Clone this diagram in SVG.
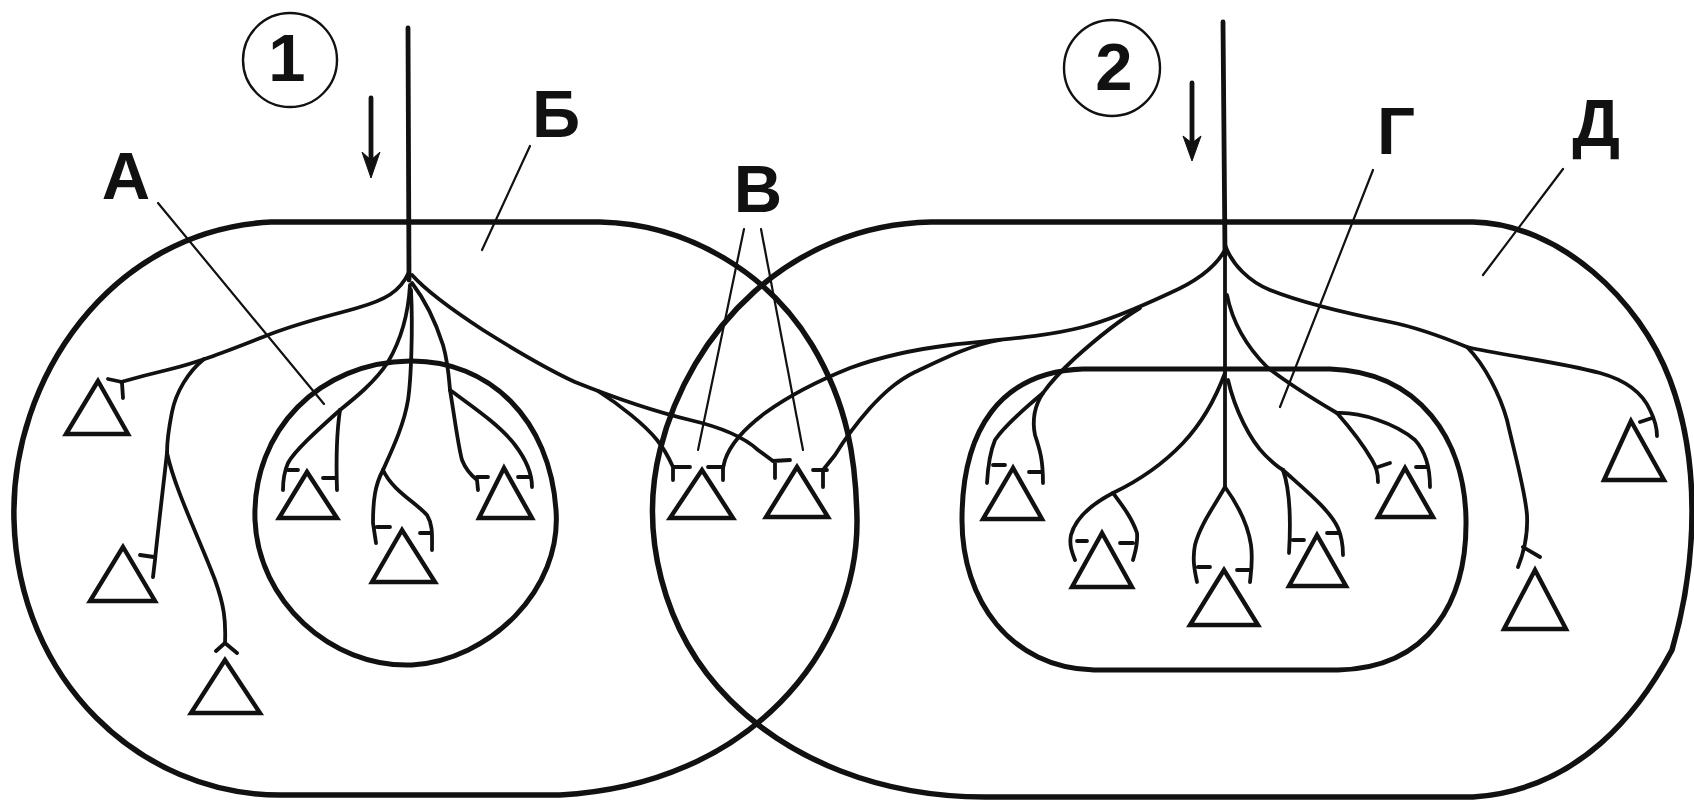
<svg xmlns="http://www.w3.org/2000/svg" width="1694" height="804" viewBox="0 0 1694 804">
<style>
.zone{fill:none;stroke:#111;stroke-width:5.5;stroke-linejoin:round}
.inner{fill:none;stroke:#111;stroke-width:5;stroke-linejoin:round}
.f{fill:none;stroke:#111;stroke-width:3.8;stroke-linecap:round;stroke-linejoin:round}
.trunk{fill:none;stroke:#111;stroke-width:4.8;stroke-linecap:round}
.tri{fill:none;stroke:#111;stroke-width:4.4;stroke-linejoin:miter}
.lead{fill:none;stroke:#111;stroke-width:2.2;stroke-linecap:round}
.circ{fill:none;stroke:#111;stroke-width:2.4}
.lbl{font-family:"Liberation Sans",Arial,sans-serif;font-weight:bold;font-size:67px;text-anchor:middle;fill:#111}
.arr{fill:#111;stroke:#111;stroke-width:1}
</style>
<rect width="1694" height="804" fill="#fff"/>

<g id="zone-B-outer1">
<path class="zone" d="M 271 222 L 600 222 C 690 224 770 275 812 345 C 848 405 856 460 857 520 C 858 650 750 785 560 795 L 280 795 C 140 795 18 680 14 520 C 10 380 110 230 271 222 Z"/>
</g>
<g id="zone-D-outer2">
<path class="zone" d="M 931 222 L 1473 222 C 1560 224 1640 300 1670 380 C 1700 460 1698 560 1672 650 C 1640 710 1580 790 1473 797 L 985 797 C 880 797 790 760 730 700 C 660 630 640 530 660 450 C 690 330 790 225 931 222 Z"/>
</g>
<g id="zone-A">
<path class="inner" d="M 410 361 C 490 360 550 420 556 510 C 562 590 490 660 412 665 C 330 668 258 600 255 520 C 252 430 320 362 410 361 Z"/>
</g>
<g id="zone-G">
<path class="inner" d="M 1083 369 L 1330 369 C 1420 372 1465 440 1466 520 C 1467 600 1430 668 1338 670 L 1094 670 C 1010 668 962 600 962 520 C 962 430 1000 372 1083 369 Z"/>
</g>

<g id="neurons">
<g id="n1"><polygon class="tri" points="98,381 66,434 128,434"/></g>
<g id="n2"><polygon class="tri" points="123,547 90,601 155,601"/></g>
<g id="n3"><polygon class="tri" points="225,660 191,713 260,713"/></g>
<g id="n4"><polygon class="tri" points="307,472 279,518 337,518"/></g>
<g id="n5"><polygon class="tri" points="402,530 372,582 435,582"/></g>
<g id="n6"><polygon class="tri" points="504,468 479,518 532,518"/></g>
<g id="n7"><polygon class="tri" points="702,470 670,518 733,518"/></g>
<g id="n8"><polygon class="tri" points="797,467 766,517 828,517"/></g>
<g id="n9"><polygon class="tri" points="1013,468 983,519 1042,519"/></g>
<g id="n10"><polygon class="tri" points="1102,533 1072,587 1132,587"/></g>
<g id="n11"><polygon class="tri" points="1224,570 1190,625 1258,625"/></g>
<g id="n12"><polygon class="tri" points="1317,535 1289,586 1346,586"/></g>
<g id="n13"><polygon class="tri" points="1405,468 1378,517 1433,517"/></g>
<g id="n14"><polygon class="tri" points="1535,570 1504,629 1566,629"/></g>
<g id="n15"><polygon class="tri" points="1631,421 1604,480 1664,480"/></g>
</g>

<g id="connectors">
<!-- tree 1 -->
<path class="trunk" d="M 408 28 L 409 280"/>
<path class="f" d="M 409 272 C 400 292 385 300 357 308 C 330 316 300 322 263 337 C 230 350 200 362 167 370 C 150 374 135 378 121 382"/>
<path class="f" d="M 108 379 L 122 382 M 122 383 L 123 398"/>
<path class="f" d="M 204 359 C 188 372 176 392 172 412 C 168 432 167 445 167 453"/>
<path class="f" d="M 167 453 C 164 480 158 530 155 560 L 153 577 M 140 555 L 154 557"/>
<path class="f" d="M 167 453 C 175 490 200 540 215 580 C 224 605 226 620 225 643 M 216 651 L 225 643 L 237 653"/>
<path class="f" d="M 410 285 C 408 320 398 345 388 362 C 375 382 355 398 340 410"/>
<path class="f" d="M 340 410 C 320 428 295 450 288 463 C 284 472 283 480 283 490 M 288 470 L 298 470"/>
<path class="f" d="M 340 410 C 337 430 336 460 337 490 M 323 478 L 336 478"/>
<path class="f" d="M 411 290 C 413 330 411 380 408 400 C 404 425 392 450 383 470"/>
<path class="f" d="M 383 470 C 375 485 373 500 373 523 L 376 543 M 377 527 L 390 527"/>
<path class="f" d="M 383 470 C 392 490 415 502 427 515 C 433 525 432 535 432 550 M 420 533 L 432 533"/>
<path class="f" d="M 412 283 C 425 300 435 320 443 345 C 448 362 449 378 450 390"/>
<path class="f" d="M 450 390 C 455 420 458 445 462 460 C 466 470 472 476 477 480 L 478 490 M 477 477 L 488 477"/>
<path class="f" d="M 450 390 C 470 405 500 425 515 445 C 528 462 532 475 532 487 M 518 477 L 531 477"/>
<path class="f" d="M 412 275 C 430 295 460 315 483 330 C 510 347 545 368 575 382 C 600 392 640 408 690 420 C 720 427 745 438 758 450 L 773 461"/>
<path class="f" d="M 773 461 L 790 460 M 775 462 L 775 478"/>
<path class="f" d="M 598 391 C 620 405 645 425 657 440 C 665 450 669 458 673 467 L 690 467 M 673 467 L 673 480"/>
<!-- tree 2 -->
<path class="trunk" d="M 1223 22 L 1225 255"/>
<path class="f" d="M 1225 250 C 1215 268 1195 282 1170 293 C 1140 307 1110 320 1083 327 C 1040 338 990 340 950 345 C 910 350 880 357 850 368 C 820 380 790 395 765 413 C 745 428 730 445 725 460 L 723 468"/>
<path class="f" d="M 708 467 L 723 467 M 723 468 L 723 480"/>
<path class="f" d="M 1000 340 C 970 345 945 358 915 372 C 895 382 882 395 870 408 C 855 425 843 442 835 455 L 823 470"/>
<path class="f" d="M 813 470 L 827 470 M 823 471 L 823 487"/>
<path class="f" d="M 1140 308 C 1120 320 1095 340 1075 358 C 1060 372 1050 383 1043 393"/>
<path class="f" d="M 1043 393 C 1025 408 1005 425 995 440 C 990 452 988 465 987 483 M 993 465 L 1005 465"/>
<path class="f" d="M 1043 393 C 1035 405 1032 420 1035 435 C 1040 450 1043 460 1043 483 M 1029 472 L 1042 472"/>
<path class="f" d="M 1225 250 L 1225 487"/>
<path class="f" d="M 1225 373 C 1215 400 1200 425 1183 443 C 1165 462 1140 480 1113 493"/>
<path class="f" d="M 1113 493 C 1090 505 1075 520 1071 535 C 1069 545 1072 552 1075 560 M 1077 541 L 1087 541"/>
<path class="f" d="M 1113 493 C 1122 505 1132 518 1137 533 C 1138 545 1135 552 1133 560 M 1120 543 L 1133 543"/>
<path class="f" d="M 1225 487 C 1215 505 1200 525 1195 545 C 1192 560 1195 572 1197 582 M 1198 567 L 1210 567"/>
<path class="f" d="M 1225 487 C 1238 505 1248 525 1251 545 C 1253 560 1251 572 1250 582 M 1237 570 L 1249 570"/>
<path class="f" d="M 1228 380 C 1235 410 1250 440 1265 455 C 1272 462 1278 467 1283 470"/>
<path class="f" d="M 1283 470 C 1290 490 1291 520 1289 553 M 1293 540 L 1304 540"/>
<path class="f" d="M 1283 470 C 1305 490 1330 510 1338 528 C 1343 540 1343 548 1343 555 M 1327 533 L 1338 533"/>
<path class="f" d="M 1227 295 C 1232 320 1245 345 1267 367 C 1290 385 1315 400 1337 413"/>
<path class="f" d="M 1337 413 C 1352 430 1365 448 1372 460 C 1376 467 1378 472 1378 482 M 1378 467 L 1390 463"/>
<path class="f" d="M 1337 413 C 1360 412 1395 423 1415 440 C 1426 452 1430 468 1430 487 M 1416 467 L 1428 467"/>
<path class="f" d="M 1225 245 C 1232 265 1250 282 1270 290 C 1300 302 1340 312 1390 322 C 1420 328 1445 338 1467 347 C 1500 355 1560 362 1600 373 C 1625 380 1642 392 1650 410 C 1655 420 1657 428 1657 436 M 1640 422 L 1652 418"/>
<path class="f" d="M 1467 347 C 1485 365 1500 395 1507 420 C 1515 455 1525 490 1527 515 C 1528 535 1524 552 1518 567 M 1523 547 L 1540 557"/>
</g>

<g id="labels">
<g id="mark-1">
<circle class="circ" cx="290" cy="60" r="47"/>
<text class="lbl" x="287" y="81">1</text>
<path class="trunk" d="M 371 98 L 371 160"/>
<polygon class="arr" points="362,152 371,178 380,152 371,160"/>
</g>
<g id="mark-2">
<circle class="circ" cx="1112" cy="68" r="48"/>
<text class="lbl" x="1114" y="90">2</text>
<path class="trunk" d="M 1192 83 L 1192 142"/>
<polygon class="arr" points="1183,136 1192,161 1201,136 1192,143"/>
</g>
<g id="label-A">
<text class="lbl" x="126" y="199">А</text>
<line class="lead" x1="158" y1="203" x2="324" y2="404"/>
</g>
<g id="label-B">
<text class="lbl" x="556" y="137">Б</text>
<line class="lead" x1="530" y1="146" x2="482" y2="250"/>
</g>
<g id="label-V">
<text class="lbl" x="758" y="212">В</text>
<line class="lead" x1="744" y1="229" x2="698" y2="450"/>
<line class="lead" x1="761" y1="229" x2="803" y2="450"/>
</g>
<g id="label-G">
<text class="lbl" x="1396" y="154">Г</text>
<line class="lead" x1="1373" y1="170" x2="1280" y2="407"/>
</g>
<g id="label-D">
<text class="lbl" x="1596" y="146">Д</text>
<line class="lead" x1="1563" y1="169" x2="1483" y2="275"/>
</g>
</g>
</svg>
